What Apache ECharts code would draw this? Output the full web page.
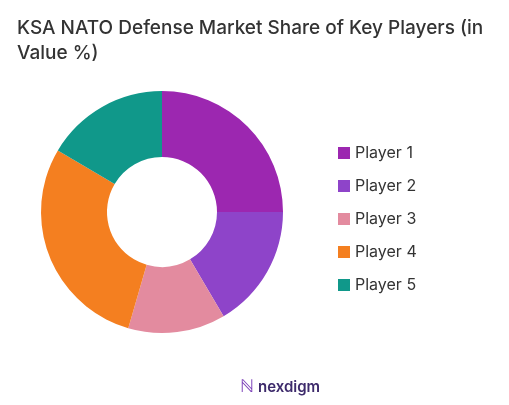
<!DOCTYPE html>
<html><head><meta charset="utf-8">
<script src="https://cdn.jsdelivr.net/npm/echarts@6/dist/echarts.min.js"></script>
<style>html,body{margin:0;padding:0;background:#fff}#c{width:509px;height:405px}</style>
</head><body><div id="c"></div>
<script>
const categories = ["Player 1","Player 2","Player 3","Player 4","Player 5"];
const values = [25, 16.5, 13, 29, 16.5];
const colors = ["#9c27b0","#8e44c9","#e38b9f","#f47f20","#10988a"];
const chart = echarts.init(document.getElementById('c'));
chart.setOption({
  animation:false,
  color: colors,
  title:{text:"KSA NATO Defense Market Share of Key Players (in\nValue %)",left:12,top:11,
    textStyle:{fontFamily:"Inter",fontSize:19,fontWeight:500,color:"#333",lineHeight:25}},
  legend:{orient:'vertical',left:333,top:140,itemWidth:12,itemHeight:12,itemGap:17,icon:'rect',
    textStyle:{fontFamily:"Inter",fontSize:16,color:"#333",padding:[0,0,0,0]}},
  graphic:[{type:'text',left:258,top:380,style:{text:'nexdigm',fontFamily:'Inter',fontSize:15,fontWeight:600,fill:'#3d2a6b'}},
           {type:'text',left:240,top:378,style:{text:'ℕ',fontSize:18,fill:'#7b3fb8'}}],
  series:[{type:'pie',center:[162,212],radius:[55,121],startAngle:90,clockwise:true,
    label:{show:false},labelLine:{show:false},
    data:categories.map((n,i)=>({name:n,value:values[i]}))}]
});
</script></body></html>
